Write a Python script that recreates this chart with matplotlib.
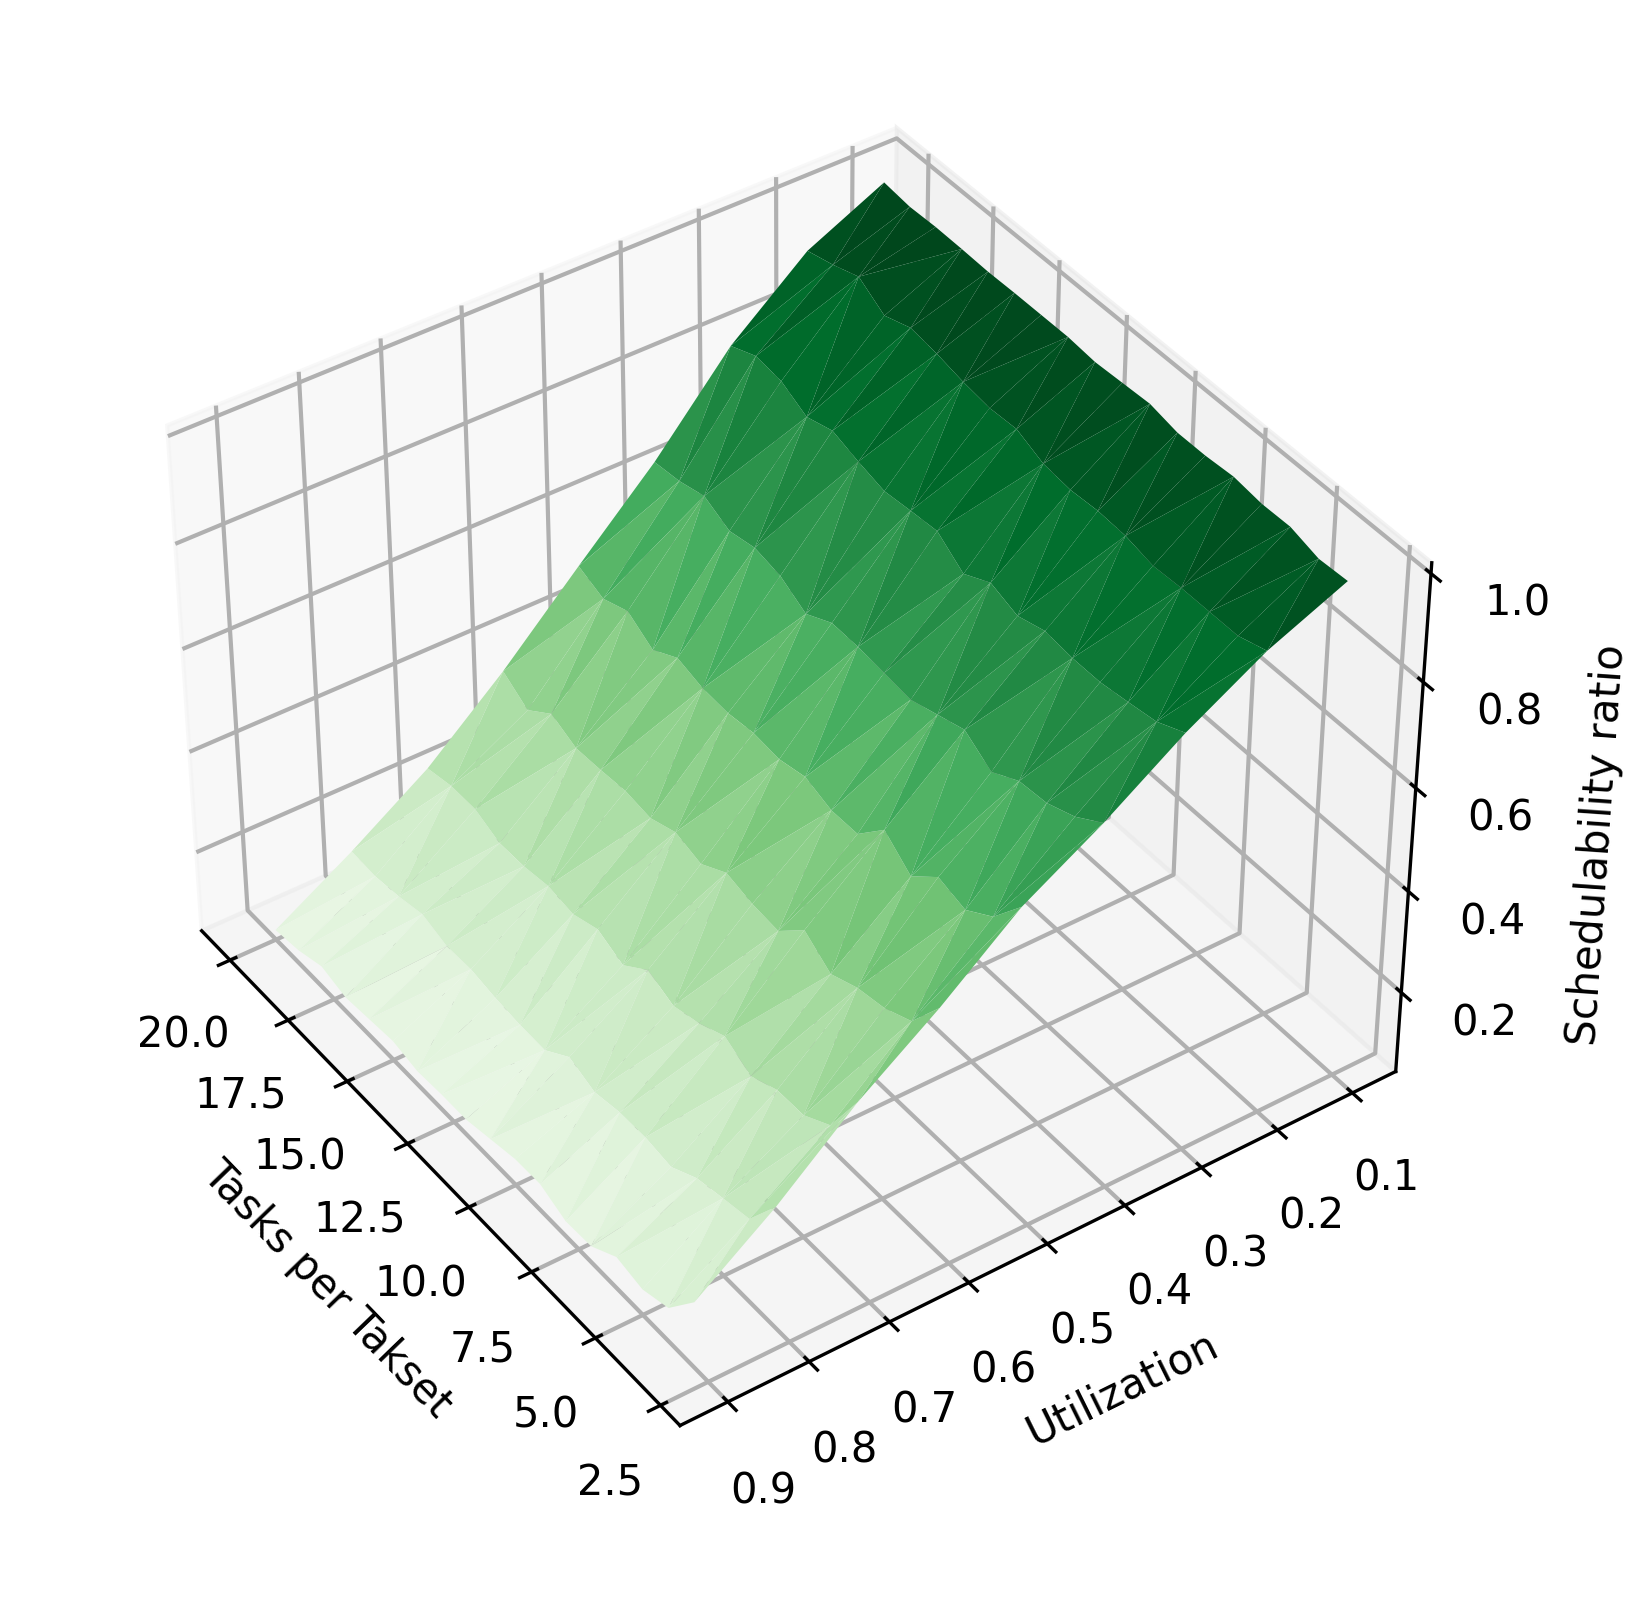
import numpy as np
import matplotlib
matplotlib.use('Agg')
import matplotlib.pyplot as plt

plt.rcParams['grid.linewidth'] = 1.0

# tasks per taskset, same order as the columns below
tasks = [20, 19, 18, 17, 16, 15, 14, 13, 12, 11, 10, 9, 8, 7, 6, 5, 4, 3]
util = [0.1, 0.2, 0.3, 0.4, 0.5, 0.6, 0.7, 0.8, 0.9]

# schedulability ratio, one row per utilization
ratio_u10 = [1.000, 0.994, 0.996, 0.995, 0.993, 0.994, 0.994, 0.994, 0.989, 0.992, 0.995, 0.984, 0.984, 0.988, 0.981, 0.982, 0.967, 0.970]
ratio_u20 = [0.931, 0.945, 0.963, 0.931, 0.949, 0.942, 0.931, 0.924, 0.927, 0.905, 0.899, 0.903, 0.900, 0.888, 0.891, 0.891, 0.891, 0.908]
ratio_u30 = [0.812, 0.834, 0.828, 0.802, 0.818, 0.802, 0.789, 0.795, 0.800, 0.763, 0.790, 0.772, 0.788, 0.782, 0.782, 0.790, 0.799, 0.824]
ratio_u40 = [0.652, 0.658, 0.672, 0.648, 0.659, 0.649, 0.620, 0.647, 0.646, 0.641, 0.635, 0.652, 0.669, 0.635, 0.664, 0.669, 0.690, 0.725]
ratio_u50 = [0.514, 0.494, 0.514, 0.483, 0.512, 0.498, 0.495, 0.502, 0.497, 0.509, 0.491, 0.492, 0.547, 0.505, 0.551, 0.536, 0.571, 0.638]
ratio_u60 = [0.373, 0.341, 0.379, 0.357, 0.360, 0.365, 0.358, 0.377, 0.362, 0.392, 0.379, 0.374, 0.424, 0.387, 0.409, 0.419, 0.443, 0.518]
ratio_u70 = [0.247, 0.258, 0.258, 0.237, 0.238, 0.246, 0.238, 0.256, 0.233, 0.272, 0.250, 0.265, 0.289, 0.260, 0.283, 0.284, 0.315, 0.411]
ratio_u80 = [0.149, 0.146, 0.153, 0.165, 0.149, 0.151, 0.142, 0.137, 0.136, 0.172, 0.152, 0.162, 0.163, 0.155, 0.184, 0.196, 0.207, 0.283]
ratio_u90 = [0.060, 0.067, 0.083, 0.069, 0.074, 0.079, 0.068, 0.071, 0.071, 0.082, 0.093, 0.094, 0.071, 0.073, 0.104, 0.092, 0.108, 0.173]

rows = [ratio_u10, ratio_u20, ratio_u30, ratio_u40, ratio_u50, ratio_u60, ratio_u70, ratio_u80, ratio_u90]

# flatten for trisurf, tasks ascending inside each utilization
x = []
y = []
z = []
for u, row in zip(util, rows):
    for t, r in zip(tasks[::-1], row[::-1]):
        x.append(t)
        y.append(u)
        z.append(r)

fig = plt.figure(figsize=(1640/300, 1602/300), dpi=300)
ax = fig.add_axes([0.0537, 0.09, 0.8361, 0.8554], projection='3d')
ax.plot_trisurf(x, y, z, cmap='Greens', vmin=-0.02, vmax=0.995, linewidth=0.2, antialiased=True)
ax.view_init(elev=40, azim=145)
ax.set_xlabel('Tasks per Takset')
ax.set_ylabel('Utilization')
ax.set_zlabel('Schedulability ratio')
fig.savefig('out.png', dpi=300)
